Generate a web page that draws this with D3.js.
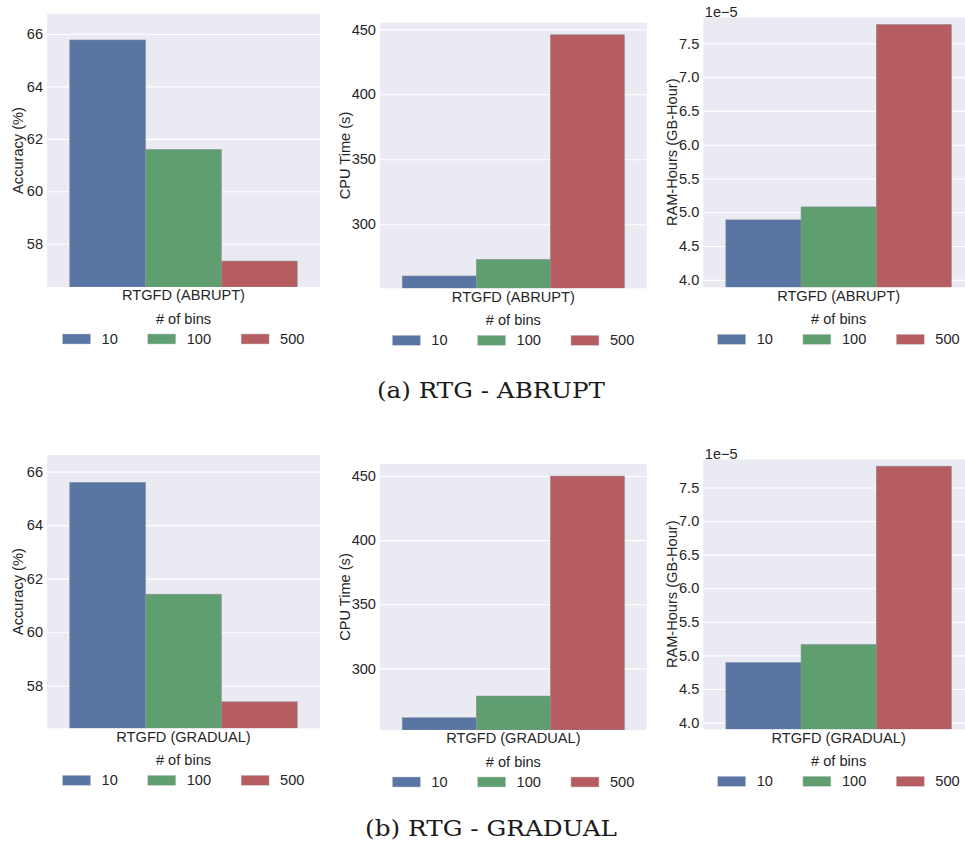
<!DOCTYPE html>
<html>
<head>
<meta charset="utf-8">
<script src="https://cdn.jsdelivr.net/npm/d3@7"></script>
<style>
  html, body { margin: 0; padding: 0; background: #ffffff; }
  svg { display: block; }
  text { font-family: "Liberation Sans", Arial, sans-serif; fill: #262626; }
  text.caption { font-family: "DejaVu Serif", "Liberation Serif", serif; fill: #1a1a1a; }
</style>
</head>
<body>
<svg id="fig" width="965" height="846"></svg>
<script>
// ---- data ----
const bins = ["10", "100", "500"];
const binColors = ["#5975a4", "#5f9e6e", "#b55d60"];

const accuracyAbrupt = [65.77, 61.60, 57.34];
const cpuAbrupt = [260.2, 273.0, 445.8];
const ramAbrupt = [4.888e-5, 5.080e-5, 7.780e-5];

const accuracyGradual = [65.60, 61.42, 57.40];
const cpuGradual = [261.5, 278.4, 450.0];
const ramGradual = [4.896e-5, 5.163e-5, 7.818e-5];

const accuracyTicks = [58, 60, 62, 64, 66];
const cpuTicks = [300, 350, 400, 450];
const ramTicks = [4.0e-5, 4.5e-5, 5.0e-5, 5.5e-5, 6.0e-5, 6.5e-5, 7.0e-5, 7.5e-5];

const accuracyLimitsAbrupt = [56.35, 66.76];
const cpuLimitsAbrupt = [250.7, 455.1];
const ramLimitsAbrupt = [3.89e-5, 7.885e-5];
const accuracyLimitsGradual = [56.41, 66.62];
const cpuLimitsGradual = [251.9, 459.4];
const ramLimitsGradual = [3.90e-5, 7.92e-5];

const streamAbrupt = "RTGFD (ABRUPT)";
const streamGradual = "RTGFD (GRADUAL)";
const captions = ["(a) RTG - ABRUPT", "(b) RTG - GRADUAL"];
const legendTitle = "# of bins";

// ---- panel layout ----
const FONT = 14.6;
const panels = [
  { stream: streamAbrupt, values: accuracyAbrupt, limits: accuracyLimitsAbrupt, ticks: accuracyTicks,
    label: "Accuracy (%)", fmt: d3.format("d"), box: { l: 47, r: 320, t: 14, b: 287 }, ylab: 18 },
  { stream: streamAbrupt, values: cpuAbrupt, limits: cpuLimitsAbrupt, ticks: cpuTicks,
    label: "CPU Time (s)", fmt: d3.format("d"), box: { l: 380, r: 646.7, t: 22.7, b: 288.3 }, ylab: 345 },
  { stream: streamAbrupt, values: ramAbrupt, limits: ramLimitsAbrupt, ticks: ramTicks,
    label: "RAM-Hours (GB-Hour)", fmt: d => d3.format(".1f")(d * 1e5), offset: "1e\u22125",
    box: { l: 703.3, r: 974, t: 17.3, b: 287.3 }, ylab: 671.7 },
  { stream: streamGradual, values: accuracyGradual, limits: accuracyLimitsGradual, ticks: accuracyTicks,
    label: "Accuracy (%)", fmt: d3.format("d"), box: { l: 47, r: 320, t: 455, b: 728.3 }, ylab: 18 },
  { stream: streamGradual, values: cpuGradual, limits: cpuLimitsGradual, ticks: cpuTicks,
    label: "CPU Time (s)", fmt: d3.format("d"), box: { l: 380, r: 646.7, t: 464, b: 730 }, ylab: 345 },
  { stream: streamGradual, values: ramGradual, limits: ramLimitsGradual, ticks: ramTicks,
    label: "RAM-Hours (GB-Hour)", fmt: d => d3.format(".1f")(d * 1e5), offset: "1e\u22125",
    box: { l: 703.3, r: 974, t: 459.3, b: 729.3 }, ylab: 671.7 }
];

const svg = d3.select("#fig");

panels.forEach((p, i) => {
  const { l, r, t, b } = p.box;
  const g = svg.append("g");

  const x = d3.scaleBand().domain([p.stream]).range([l, r]).paddingInner(0).paddingOuter(0.1);
  const xBin = d3.scaleBand().domain(bins).range([x(p.stream), x(p.stream) + x.bandwidth()]);
  const y = d3.scaleLinear().domain(p.limits).range([b, t]);

  const clipId = "clip" + i;
  g.append("clipPath").attr("id", clipId)
    .append("rect").attr("x", l).attr("y", t).attr("width", r - l).attr("height", b - t);

  // axes background
  g.append("rect").attr("x", l).attr("y", t).attr("width", r - l).attr("height", b - t)
    .attr("fill", "#eaeaf2");

  // horizontal grid
  const grid = d3.axisLeft(y).tickValues(p.ticks).tickSize(-(r - l)).tickFormat("");
  g.append("g").attr("transform", `translate(${l},0)`).call(grid)
    .call(s => s.select(".domain").remove())
    .call(s => s.selectAll("line").attr("stroke", "#ffffff").attr("stroke-width", 1.1));

  // bars
  g.append("g").attr("clip-path", `url(#${clipId})`)
    .selectAll("rect").data(p.values).join("rect")
    .attr("x", (d, j) => xBin(bins[j]))
    .attr("width", xBin.bandwidth())
    .attr("y", d => y(d))
    .attr("height", d => y(p.limits[0]) - y(d))
    .attr("fill", (d, j) => binColors[j])
    .attr("stroke", "#8e8e9c").attr("stroke-width", 0.5);

  // y tick labels
  const yAxis = d3.axisLeft(y).tickValues(p.ticks).tickSize(0).tickPadding(4).tickFormat(p.fmt);
  g.append("g").attr("transform", `translate(${l},0)`).call(yAxis)
    .call(s => s.select(".domain").remove())
    .call(s => s.selectAll("text").attr("font-size", FONT));

  // x tick label
  const xAxis = d3.axisBottom(x).tickSize(0).tickPadding(3);
  g.append("g").attr("transform", `translate(0,${b})`).call(xAxis)
    .call(s => s.select(".domain").remove())
    .call(s => s.selectAll("text").attr("font-size", FONT));

  // y label
  g.append("text")
    .attr("transform", `translate(${p.ylab},${(t + b) / 2}) rotate(-90)`)
    .attr("text-anchor", "middle").attr("dominant-baseline", "central")
    .attr("font-size", FONT).text(p.label);

  // offset text
  if (p.offset) {
    g.append("text").attr("x", l + 1.5).attr("y", t)
      .attr("font-size", FONT).text(p.offset);
  }

  // legend
  const cx = (l + r) / 2;
  const lg = g.append("g");
  lg.append("text").attr("x", cx).attr("y", b + 32).attr("text-anchor", "middle")
    .attr("dominant-baseline", "central").attr("font-size", FONT).text(legendTitle);

  const patchW = 28, patchH = 10, gap = 11, colSpace = 30;
  const entries = lg.selectAll("g.entry").data(bins).join("g").attr("class", "entry");
  entries.append("rect").attr("width", patchW).attr("height", patchH)
    .attr("y", -patchH / 2)
    .attr("fill", (d, j) => binColors[j]).attr("stroke", "#c8c8d0").attr("stroke-width", 0.5);
  entries.append("text").attr("x", patchW + gap).attr("dominant-baseline", "central")
    .attr("font-size", FONT).text(d => d);
  const widths = entries.nodes().map(n => patchW + gap + n.querySelector("text").getComputedTextLength());
  const total = d3.sum(widths) + colSpace * (widths.length - 1);
  let cursor = cx - total / 2;
  entries.attr("transform", (d, j) => {
    const tx = cursor;
    cursor += widths[j] + colSpace;
    return `translate(${tx},${b + 52})`;
  });
});

// sub-figure captions
const capY = [390, 828];
const capW = [228, 252];
captions.forEach((c, i) => {
  svg.append("text").attr("class", "caption")
    .attr("x", 491).attr("y", capY[i])
    .attr("text-anchor", "middle").attr("dominant-baseline", "central")
    .attr("font-size", 22)
    .attr("textLength", capW[i]).attr("lengthAdjust", "spacingAndGlyphs")
    .text(c);
});
</script>
</body>
</html>
